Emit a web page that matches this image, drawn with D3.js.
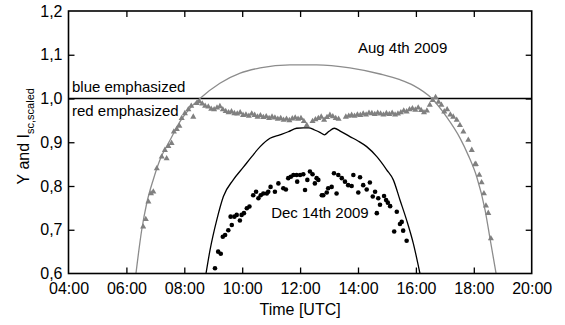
<!DOCTYPE html>
<html><head><meta charset="utf-8">
<script src="https://cdn.jsdelivr.net/npm/d3@7"></script>
<style>
body{margin:0;background:#fff;}
svg{display:block;font-family:"Liberation Sans",Arial,sans-serif;}
</style></head>
<body><svg id="c" width="565" height="325"></svg>
<script>
// ---- data ----
const xTickValues = [4, 6, 8, 10, 12, 14, 16, 18, 20];
const xTickLabels = ["04:00","06:00","08:00","10:00","12:00","14:00","16:00","18:00","20:00"];
const yTickValues = [0.6, 0.7, 0.8, 0.9, 1.0, 1.1, 1.2];
const yTickLabels = ["0,6","0,7","0,8","0,9","1,0","1,1","1,2"];

// Aug 4th 2009 smooth curve (grey line)
const augCurveTime = [6.33,6.53,6.70,6.93,7.16,7.51,7.85,8.20,8.54,9.23,9.93,10.62,11.65,12.57,13.72,14.76,15.45,15.91,16.55,17.06,17.52,17.81,18.10,18.39,18.56,18.77];
const augCurveValue = [0.600,0.700,0.760,0.815,0.860,0.905,0.947,0.978,1.000,1.035,1.058,1.070,1.077,1.077,1.070,1.056,1.043,1.030,1.000,0.958,0.910,0.870,0.821,0.745,0.680,0.600];

// Aug 4th 2009 measured (grey triangles)
const augPointTime = [6.58,6.67,6.76,6.85,6.93,7.05,7.22,7.33,7.39,7.45,7.56,7.64,7.74,7.83,7.91,8.02,8.14,8.24,8.31,8.43,8.52,8.62,8.72,8.83,8.93,9.03,9.13,9.23,9.33,9.43,9.53,9.63,9.73,9.83,9.93,10.03,10.13,10.23,10.33,10.43,10.53,10.63,10.73,10.83,10.93,11.03,11.13,11.23,11.33,11.43,11.53,11.63,11.73,11.83,11.93,12.03,12.13,12.23,12.43,12.53,12.63,12.73,12.83,12.93,13.03,13.13,13.23,13.33,13.58,13.68,13.78,13.88,13.98,14.08,14.18,14.28,14.38,14.48,14.58,14.68,14.78,14.88,14.98,15.08,15.18,15.28,15.38,15.48,15.58,15.68,15.78,15.88,15.98,16.08,16.18,16.28,16.38,16.48,16.58,16.68,16.78,16.88,16.98,17.08,17.19,17.29,17.41,17.52,17.64,17.81,17.93,18.04,18.07,18.19,18.27,18.35,18.42,18.50,18.59];
const augPointValue = [0.707,0.724,0.764,0.783,0.787,0.840,0.867,0.882,0.863,0.891,0.898,0.924,0.930,0.937,0.955,0.966,0.975,0.983,0.958,0.989,0.993,0.988,0.983,0.981,0.976,0.975,0.979,0.982,0.975,0.971,0.968,0.970,0.966,0.965,0.968,0.962,0.963,0.960,0.965,0.962,0.958,0.961,0.957,0.959,0.955,0.958,0.956,0.953,0.955,0.951,0.953,0.950,0.954,0.956,0.953,0.955,0.948,0.939,0.948,0.952,0.955,0.958,0.951,0.957,0.962,0.959,0.955,0.953,0.958,0.960,0.962,0.960,0.963,0.962,0.965,0.963,0.967,0.966,0.964,0.967,0.965,0.963,0.966,0.964,0.967,0.963,0.965,0.968,0.972,0.970,0.975,0.977,0.974,0.979,0.973,0.968,0.972,0.985,0.996,1.003,0.992,0.985,0.970,0.975,0.963,0.958,0.951,0.939,0.924,0.905,0.882,0.849,0.850,0.825,0.808,0.783,0.755,0.738,0.680];

// Dec 14th 2009 smooth curve (black line)
const decCurveTime = [8.75,8.89,9.12,9.35,9.69,10.04,10.33,10.62,10.96,11.30,11.59,11.88,12.11,12.30,12.50,12.70,12.84,13.00,13.18,13.40,13.72,14.00,14.30,14.65,14.99,15.22,15.45,15.68,15.91,16.14];
const decCurveValue = [0.600,0.654,0.722,0.776,0.814,0.843,0.867,0.890,0.909,0.917,0.924,0.932,0.933,0.933,0.928,0.922,0.917,0.925,0.932,0.925,0.913,0.903,0.890,0.867,0.837,0.814,0.768,0.722,0.669,0.600];

// Dec 14th 2009 measured (black dots)
const decPointTime = [9.06,9.17,9.26,9.33,9.41,9.52,9.60,9.64,9.73,9.81,9.92,9.98,10.06,10.16,10.25,10.38,10.48,10.56,10.64,10.73,10.85,10.90,10.98,11.13,11.25,11.42,11.51,11.59,11.68,11.77,11.88,11.90,12.00,12.11,12.17,12.25,12.34,12.43,12.51,12.57,12.63,12.75,12.80,12.92,12.97,13.09,13.17,13.26,13.32,13.44,13.55,13.66,13.78,13.84,14.01,14.07,14.18,14.30,14.41,14.51,14.59,14.65,14.70,14.76,14.90,14.97,15.03,15.11,15.25,15.34,15.45,15.51,15.56,15.68];
const decPointValue = [0.612,0.650,0.645,0.684,0.688,0.699,0.730,0.711,0.730,0.734,0.721,0.734,0.738,0.749,0.753,0.779,0.787,0.772,0.779,0.783,0.783,0.787,0.798,0.787,0.806,0.795,0.792,0.818,0.821,0.825,0.825,0.810,0.825,0.827,0.791,0.814,0.833,0.827,0.806,0.818,0.814,0.779,0.779,0.785,0.795,0.798,0.829,0.783,0.825,0.818,0.810,0.802,0.800,0.825,0.785,0.820,0.802,0.792,0.808,0.776,0.787,0.738,0.772,0.757,0.777,0.768,0.762,0.754,0.696,0.741,0.713,0.718,0.698,0.675];

const annotations = [
  {text:"Aug 4th 2009", t:14.0, v:1.104},
  {text:"blue emphasized", t:4.12, v:1.015},
  {text:"red emphasized", t:4.12, v:0.960},
  {text:"Dec 14th 2009", t:11.0, v:0.727}
];

// ---- layout ----
const svg = d3.select("#c");
const L = 68.5, R = 531.7, T = 11, B = 273.5;
const x = d3.scaleLinear().domain([4, 20]).range([L, R]);
const y = d3.scaleLinear().domain([0.6, 1.2]).range([B, T]);

svg.append("defs").append("clipPath").attr("id","clip")
  .append("rect").attr("x",L).attr("y",T).attr("width",R-L).attr("height",B-T);

const plot = svg.append("g").attr("clip-path","url(#clip)");

// reference line at 1.0
plot.append("line").attr("x1",L).attr("x2",R).attr("y1",y(1.0)).attr("y2",y(1.0))
  .attr("stroke","#000").attr("stroke-width",1.3);

const line = d3.line().x(d=>x(d[0])).y(d=>y(d[1])).curve(d3.curveMonotoneX);

plot.append("path").datum(d3.zip(augCurveTime, augCurveValue))
  .attr("d", line).attr("fill","none").attr("stroke","#8c8c8c").attr("stroke-width",1.3);

plot.append("path").datum(d3.zip(decCurveTime, decCurveValue))
  .attr("d", line).attr("fill","none").attr("stroke","#000").attr("stroke-width",1.3);

const tri = d3.symbol().type(d3.symbolTriangle).size(16);
plot.append("g").selectAll("path").data(d3.zip(augPointTime, augPointValue)).join("path")
  .attr("d", tri).attr("transform", d=>`translate(${x(d[0])},${y(d[1])})`)
  .attr("fill","#808080");

plot.append("g").selectAll("circle").data(d3.zip(decPointTime, decPointValue)).join("circle")
  .attr("cx", d=>x(d[0])).attr("cy", d=>y(d[1])).attr("r",2.3).attr("fill","#000");

// axes
const fmtX = d => xTickLabels[xTickValues.indexOf(d)];
const fmtY = d => yTickLabels[yTickValues.findIndex(v=>Math.abs(v-d)<1e-9)];

function styleAxis(g){
  g.select(".domain").remove();
  g.selectAll(".tick line").attr("stroke","#000").attr("stroke-width",1.3);
  g.selectAll(".tick text").attr("fill","#000").attr("font-size","16px")
   .attr("font-family",'"Liberation Sans",Arial,sans-serif');
}
svg.append("g").attr("transform",`translate(0,${B})`)
  .call(d3.axisBottom(x).tickValues(xTickValues).tickFormat(fmtX).tickSizeInner(-6).tickSizeOuter(0).tickPadding(9))
  .call(styleAxis);
svg.append("g").attr("transform",`translate(0,${T})`)
  .call(d3.axisTop(x).tickValues(xTickValues.slice(1,-1)).tickFormat("").tickSizeInner(-6).tickSizeOuter(0))
  .call(styleAxis);
svg.append("g").attr("transform",`translate(${L},0)`)
  .call(d3.axisLeft(y).tickValues(yTickValues).tickFormat(fmtY).tickSizeInner(-6).tickSizeOuter(0).tickPadding(6))
  .call(styleAxis);
svg.append("g").attr("transform",`translate(${R},0)`)
  .call(d3.axisRight(y).tickValues(yTickValues.slice(1,-1)).tickFormat("").tickSizeInner(-6).tickSizeOuter(0))
  .call(styleAxis);
svg.selectAll(".tick").filter(d=>d===4||d===20||Math.abs(d-0.6)<1e-9||Math.abs(d-1.2)<1e-9).select("line").remove();

// frame
svg.append("rect").attr("x",L).attr("y",T).attr("width",R-L).attr("height",B-T)
  .attr("fill","none").attr("stroke","#000").attr("stroke-width",1.6);

// annotations
svg.append("g").selectAll("text").data(annotations).join("text")
  .attr("x", d=>x(d.t)).attr("y", d=>y(d.v)).attr("text-anchor","start")
  .attr("font-size","15px").attr("fill","#000").text(d=>d.text);

// axis titles
svg.append("text").attr("x",(L+R)/2).attr("y",315).attr("text-anchor","middle")
  .attr("font-size","16px").attr("fill","#000").text("Time [UTC]");

const yl = svg.append("text").attr("transform",`translate(29,${(T+B)/2-6}) rotate(-90)`)
  .attr("text-anchor","middle").attr("font-size","16px").attr("fill","#000");
yl.append("tspan").text("Y and I");
yl.append("tspan").attr("dy","5").attr("font-size","11px").text("sc,scaled");
</script></body></html>
